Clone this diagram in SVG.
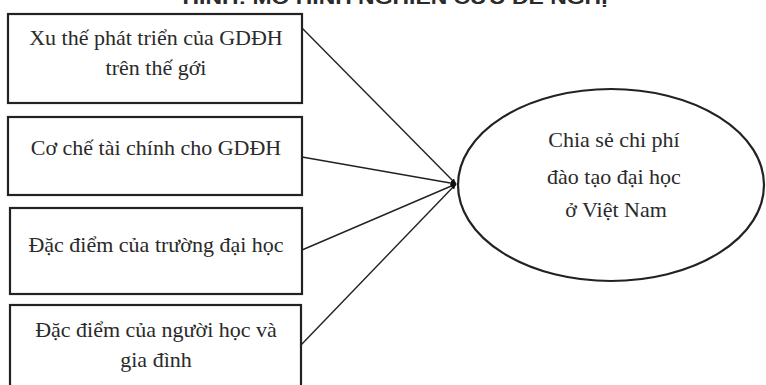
<svg xmlns="http://www.w3.org/2000/svg" width="766" height="385" viewBox="0 0 766 385">
  <defs>
    <style>
      .box { fill: #ffffff; stroke: #222222; stroke-width: 2.2; }
      .lbl { font-family: "Liberation Serif", "Times New Roman", serif; font-size: 22px; fill: #2a2a2a; text-anchor: middle; }
      .ttl { font-family: "Liberation Sans", Arial, sans-serif; font-size: 18px; font-weight: bold; fill: #2a2a2a; text-anchor: middle; }
      .con { stroke: #222222; stroke-width: 1.4; fill: none; marker-end: url(#arr); }
    </style>
    <marker id="arr" viewBox="0 0 10 10" refX="9" refY="5" markerWidth="6" markerHeight="6" markerUnits="userSpaceOnUse" orient="auto">
      <path d="M0,1 L10,5 L0,9 Z" fill="#111111"/>
    </marker>
  </defs>
  <rect x="0" y="0" width="766" height="385" fill="#ffffff"/>
  <text class="ttl" x="395" y="4" textLength="425" lengthAdjust="spacingAndGlyphs">HÌNH: MÔ HÌNH NGHIÊN CỨU ĐỀ NGHỊ</text>

  <g id="connectors">
    <line class="con" x1="302" y1="28" x2="456" y2="184"/>
    <line class="con" x1="302" y1="157" x2="456" y2="184"/>
    <line class="con" x1="302" y1="250" x2="456" y2="184"/>
    <line class="con" x1="301" y1="345" x2="456" y2="184"/>
  </g>

  <g id="node-xu-the">
    <rect class="box" x="8" y="14" width="294" height="89"/>
    <text class="lbl" x="156" y="45">Xu thế phát triển của GDĐH</text>
    <text class="lbl" x="156" y="75">trên thế gới</text>
  </g>

  <g id="node-co-che">
    <rect class="box" x="8" y="117" width="294" height="78"/>
    <text class="lbl" x="156" y="155">Cơ chế tài chính cho GDĐH</text>
  </g>

  <g id="node-truong">
    <rect class="box" x="10" y="208" width="292" height="86"/>
    <text class="lbl" x="156" y="252">Đặc điểm của trường đại học</text>
  </g>

  <g id="node-nguoi-hoc">
    <rect class="box" x="10" y="305" width="291" height="95"/>
    <text class="lbl" x="156" y="337">Đặc điểm của người học và</text>
    <text class="lbl" x="156" y="367">gia đình</text>
  </g>

  <g id="node-chia-se">
    <ellipse class="box" cx="611" cy="185" rx="153" ry="96"/>
    <text class="lbl" x="614" y="147">Chia sẻ chi phí</text>
    <text class="lbl" x="614" y="184">đào tạo đại học</text>
    <text class="lbl" x="616" y="217">ở Việt Nam</text>
  </g>
</svg>
